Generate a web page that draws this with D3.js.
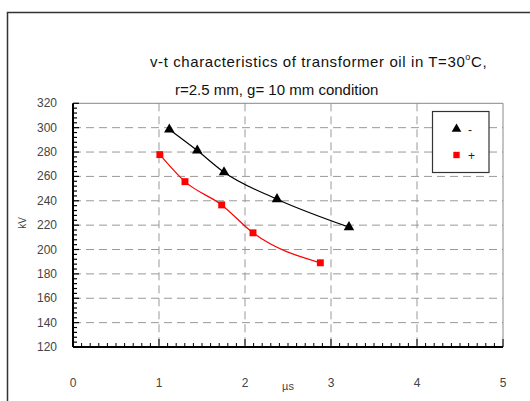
<!DOCTYPE html>
<html>
<head>
<meta charset="utf-8">
<script src="https://cdn.jsdelivr.net/npm/d3@7.9.0/dist/d3.min.js"></script>
<style>
  body { margin: 0; background: #fff; }
  svg { display: block; font-family: "Liberation Sans", Arial, sans-serif; }
</style>
</head>
<body>
<div id="chart"></div>
<script>
// data
const negTime = [1.12, 1.445, 1.756, 2.372, 3.209];
const negKV = [298.5, 281.2, 263.4, 241.3, 218.4];
const posTime = [1.01, 1.302, 1.729, 2.093, 2.876];
const posKV = [277.9, 255.7, 236.6, 213.7, 189.1];
const xTicks = [0, 1, 2, 3, 4, 5];
const yTicks = [120, 140, 160, 180, 200, 220, 240, 260, 280, 300, 320];
const seriesNames = ['-', '+'];

const width = 530, height = 401;
const margin = { top: 103.3, right: 27, bottom: 54, left: 73 };

const svg = d3.select('#chart').append('svg')
  .attr('width', width).attr('height', height);

// outer chart frame
svg.append('path')
  .attr('d', `M7.5,${height + 5}V12.5H${width + 5}`)
  .attr('fill', 'none').attr('stroke', '#333').attr('stroke-width', 1.5);

const xScale = d3.scaleLinear().domain([0, 5]).range([margin.left, width - margin.right]);
const yScale = d3.scaleLinear().domain([120, 320]).range([height - margin.bottom, margin.top]);

// title
const title = svg.append('g').attr('font-size', 15).attr('fill', '#111');
const t1 = title.append('text').attr('x', 150).attr('y', 67).attr('letter-spacing', 0.6);
t1.append('tspan').text('v-t characteristics of transformer oil in T=30');
t1.append('tspan').attr('font-size', 9).attr('dy', -7).text('o');
t1.append('tspan').attr('dy', 7).text('C,');
title.append('text').attr('x', 175).attr('y', 95).text('r=2.5 mm, g= 10 mm condition');

// gridlines
const grid = svg.append('g').attr('stroke', '#999').attr('stroke-dasharray', '8,5').attr('stroke-width', 1);
grid.selectAll('line.h').data(yTicks.filter(d => d > 120 && d < 320)).join('line')
  .attr('class', 'h')
  .attr('x1', xScale(0)).attr('x2', xScale(5))
  .attr('y1', d => yScale(d)).attr('y2', d => yScale(d));
grid.selectAll('line.v').data(xTicks.filter(d => d > 0 && d < 5)).join('line')
  .attr('class', 'v')
  .attr('y1', yScale(320)).attr('y2', yScale(120))
  .attr('x1', d => xScale(d)).attr('x2', d => xScale(d));

// plot frame (top and right)
svg.append('path')
  .attr('d', `M${xScale(0)},${yScale(320)}H${xScale(5)}V${yScale(120)}`)
  .attr('fill', 'none').attr('stroke', '#888').attr('stroke-width', 1);

// y axis with minor ticks
const yAxis = svg.append('g').attr('stroke', '#000');
yAxis.append('line')
  .attr('x1', xScale(0)).attr('x2', xScale(0))
  .attr('y1', yScale(320)).attr('y2', yScale(120)).attr('stroke-width', 2);
yAxis.selectAll('line.minor').data(d3.range(120, 321, 4)).join('line')
  .attr('class', 'minor')
  .attr('x1', xScale(0)).attr('x2', d => xScale(0) + (d % 20 === 0 ? 6 : 4))
  .attr('y1', d => yScale(d)).attr('y2', d => yScale(d)).attr('stroke-width', 1.2);

// x axis with minor ticks
const xAxis = svg.append('g').attr('stroke', '#000');
xAxis.append('line')
  .attr('x1', xScale(0)).attr('x2', xScale(5))
  .attr('y1', yScale(120)).attr('y2', yScale(120)).attr('stroke-width', 2);
xAxis.selectAll('line.minor').data(d3.range(0, 51).map(d => d / 10)).join('line')
  .attr('class', 'minor')
  .attr('x1', d => xScale(d)).attr('x2', d => xScale(d))
  .attr('y1', yScale(120)).attr('y2', (d, i) => yScale(120) - (i % 10 === 0 ? 8 : 4))
  .attr('stroke-width', 1);

// tick labels
svg.append('g').attr('font-size', 12).attr('fill', '#444').attr('text-anchor', 'end')
  .selectAll('text').data(yTicks).join('text')
  .attr('x', 57).attr('y', d => yScale(d) + 4).text(d => d);
svg.append('g').attr('font-size', 12).attr('fill', '#444').attr('text-anchor', 'middle')
  .selectAll('text').data(xTicks).join('text')
  .attr('x', d => xScale(d)).attr('y', 387).text(d => d);

// axis titles
svg.append('text').attr('font-size', 10).attr('fill', '#444').attr('text-anchor', 'middle')
  .attr('transform', 'translate(26,223) rotate(-90)').text('kV');
svg.append('text').attr('font-size', 11).attr('fill', '#444').attr('text-anchor', 'middle')
  .attr('x', 288).attr('y', 390).text('\u00b5s');

// series
const series = [
  { name: seriesNames[0], color: '#000', t: negTime, v: negKV, shape: d3.symbolTriangle },
  { name: seriesNames[1], color: '#ff0000', t: posTime, v: posKV, shape: d3.symbolSquare }
];
const line = d3.line().curve(d3.curveMonotoneX).x(d => xScale(d[0])).y(d => yScale(d[1]));

series.forEach(s => {
  const pts = d3.zip(s.t, s.v);
  svg.append('path').datum(pts).attr('d', line)
    .attr('fill', 'none').attr('stroke', s.color).attr('stroke-width', 1.2);
  svg.append('g').selectAll('path').data(pts).join('path')
    .attr('transform', d => `translate(${xScale(d[0])},${yScale(d[1])})`)
    .attr('d', d3.symbol(s.shape, 48))
    .attr('fill', s.color);
});

// legend
const legend = svg.append('g');
legend.append('rect').attr('x', 432.5).attr('y', 111.5).attr('width', 56.5).attr('height', 61)
  .attr('fill', '#fff').attr('stroke', '#333').attr('stroke-width', 1.2);
series.forEach((s, i) => {
  const y = 129 + i * 26;
  legend.append('path').attr('transform', `translate(456.5,${y})`)
    .attr('d', d3.symbol(s.shape, 40)).attr('fill', s.color);
  legend.append('text').attr('x', 468).attr('y', y + 5).attr('font-size', 12).attr('fill', '#222')
    .text(s.name);
});
</script>
</body>
</html>
